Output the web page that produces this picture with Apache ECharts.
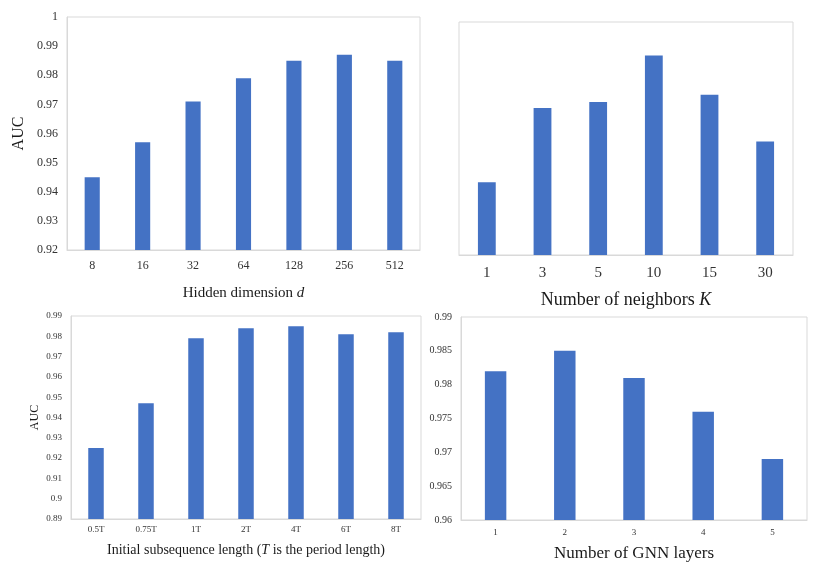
<!DOCTYPE html>
<html>
<head>
<meta charset="utf-8">
<script src="https://cdn.jsdelivr.net/npm/echarts@6/dist/echarts.min.js"></script>
<style>html,body{margin:0;padding:0;background:#fff;}#c{width:830px;height:571px;}</style>
</head>
<body>
<div id="c"></div>
<script>
// Panel (a): hidden dimension
const dimCats = ['8', '16', '32', '64', '128', '256', '512'];
const dimAUC = [0.945, 0.957, 0.971, 0.979, 0.985, 0.987, 0.985];
// Panel (b): number of neighbors
const kCats = ['1', '3', '5', '10', '15', '30'];
const kAUC = [0.945, 0.9705, 0.9725, 0.9885, 0.975, 0.959];
// Panel (c): initial subsequence length
const lenCats = ['0.5T', '0.75T', '1T', '2T', '4T', '6T', '8T'];
const lenAUC = [0.925, 0.947, 0.979, 0.984, 0.985, 0.981, 0.982];
// Panel (d): GNN layers
const layerCats = ['1', '2', '3', '4', '5'];
const layerAUC = [0.982, 0.985, 0.981, 0.976, 0.969];

const FONT = 'Liberation Serif';
const BAR = '#4472C4';
const BORDER = '#d9d9d9';
const LABEL = '#333333';
const TITLE = '#1a1a1a';

function xAx(idx, cats, fs, margin, name, nfs, gap) {
  return {
    type: 'category', gridIndex: idx, data: cats,
    axisTick: { show: false },
    axisLine: { lineStyle: { color: BORDER, width: 1 } },
    axisLabel: { fontFamily: FONT, fontSize: fs, color: LABEL, margin: margin },
    name: name, nameLocation: 'middle', nameGap: gap,
    nameTextStyle: { fontFamily: FONT, fontSize: nfs, color: TITLE, rich: {
      i: { fontFamily: FONT, fontSize: nfs, fontStyle: 'italic', color: TITLE } } }
  };
}
function yAx(idx, min, max, interval, fs, show, name, nfs, gap) {
  return {
    type: 'value', gridIndex: idx, min: min, max: max, interval: interval, show: show,
    splitLine: { show: false },
    axisTick: { show: false },
    axisLine: { show: true, lineStyle: { color: BORDER, width: 1 } },
    axisLabel: { fontFamily: FONT, fontSize: fs, color: LABEL, margin: 9 },
    name: name, nameLocation: 'middle', nameGap: gap, nameRotate: 90,
    nameTextStyle: { fontFamily: FONT, fontSize: nfs, color: TITLE }
  };
}
function bars(idx, data, w) {
  return { type: 'bar', xAxisIndex: idx, yAxisIndex: idx, data: data, barWidth: w,
    itemStyle: { color: BAR }, silent: true };
}

const option = {
  animation: false,
  grid: [
    { left: 67, top: 17, width: 353, height: 233, show: true, borderColor: BORDER, borderWidth: 1 },
    { left: 459, top: 22, width: 334, height: 233, show: true, borderColor: BORDER, borderWidth: 1 },
    { left: 71, top: 316, width: 350, height: 203, show: true, borderColor: BORDER, borderWidth: 1 },
    { left: 461, top: 317, width: 346, height: 203, show: true, borderColor: BORDER, borderWidth: 1 }
  ],
  xAxis: [
    xAx(0, dimCats, 12, 10, 'Hidden dimension {i|d}', 15, 36),
    xAx(1, kCats, 15, 11, 'Number of neighbors {i|K}', 18, 36),
    xAx(2, lenCats, 9, 6, 'Initial subsequence length ({i|T} is the period length)', 14, 24),
    xAx(3, layerCats, 9, 8, 'Number of GNN layers', 17, 25)
  ],
  yAxis: [
    yAx(0, 0.92, 1, 0.01, 12, true, 'AUC', 16, 40),
    yAx(1, 0.92, 1, 0.01, 12, false, '', 12, 40),
    yAx(2, 0.89, 0.99, 0.01, 9, true, 'AUC', 12, 30),
    yAx(3, 0.96, 0.99, 0.005, 10, true, '', 12, 40)
  ],
  series: [
    bars(0, dimAUC, '30%'),
    bars(1, kAUC, '32%'),
    bars(2, lenAUC, '31%'),
    bars(3, layerAUC, '31%')
  ]
};
echarts.init(document.getElementById('c')).setOption(option);
</script>
</body>
</html>
